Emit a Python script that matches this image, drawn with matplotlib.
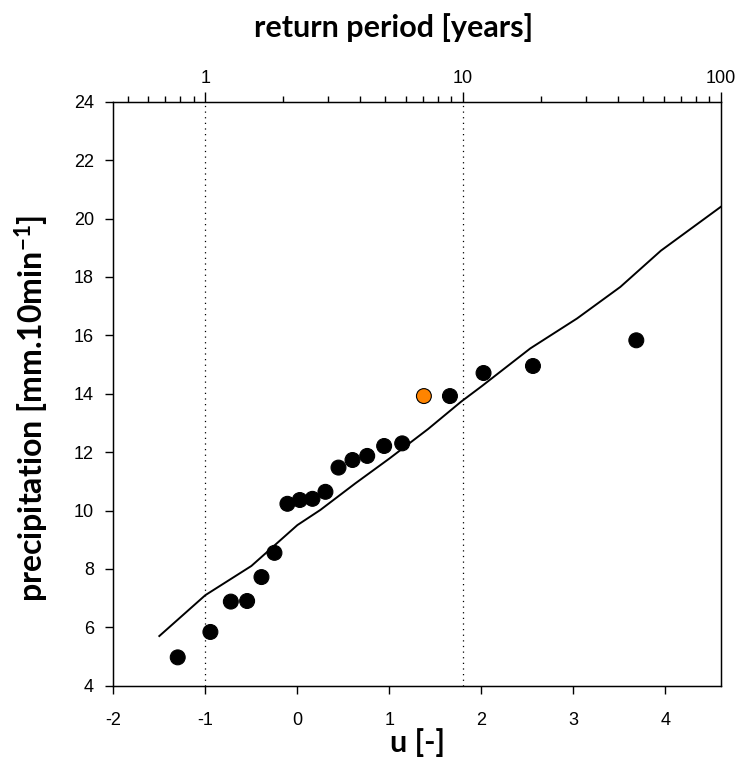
import matplotlib
matplotlib.use("Agg")
import matplotlib.pyplot as plt
import numpy as np
from matplotlib.ticker import NullFormatter, LogLocator

# observed annual maxima: reduced variate u and precipitation
u_obs = [-1.30, -0.945, -0.723, -0.546, -0.390, -0.249, -0.108, 0.027, 0.164, 0.305,
         0.447, 0.599, 0.759, 0.943, 1.139, 1.375, 1.658, 2.023, 2.560, 3.683]
p_obs = [4.97, 5.84, 6.88, 6.90, 7.72, 8.55, 10.23, 10.36, 10.40, 10.64,
         11.47, 11.73, 11.87, 12.21, 12.30, 13.92, 13.92, 14.71, 14.95, 15.83]
highlight = 15  # index of orange point

# fitted curve
u_fit = [-1.50, -1.00, -0.50, 0.00, 0.25, 0.63, 1.00, 1.42, 1.78, 2.00, 2.53, 3.04, 3.51, 3.95, 4.60]
p_fit = [5.70, 7.10, 8.10, 9.50, 10.02, 10.93, 11.78, 12.79, 13.73, 14.25, 15.55, 16.58, 17.66, 18.90, 20.40]

# return period axis: u = a*log10(T) + b
a, b = 2.8, -1.0
T_lines = [1, 10]
T_ticks = [1, 10, 100]

plt.rcParams['font.family'] = ['Liberation Sans', 'DejaVu Sans']
plt.rcParams['mathtext.default'] = 'regular'
plt.rcParams['axes.unicode_minus'] = False

fig = plt.figure(figsize=(7.42, 7.83), dpi=100)
ax = fig.add_axes([0.1527, 0.1243, 0.8186, 0.7457])

ax.plot(u_fit, p_fit, color='black', lw=1.4, zorder=2)
cols = ['black'] * len(u_obs)
cols[highlight] = '#ff8400'
ax.scatter(u_obs, p_obs, s=115, c=cols, edgecolors='black', linewidths=0.8, zorder=3)

ax.set_xlim(-2, 4.6)
ax.set_ylim(4, 24)
ax.set_xticks(np.arange(-2, 5, 1))
ax.set_yticks(np.arange(4, 25, 2))
for s in ax.spines.values():
    s.set_linewidth(1)

# top axis with return period
tx = ax.twiny()
tx.set_xscale('log')
tx.set_xlim(10 ** ((-2 - b) / a), 10 ** ((4.6 - b) / a))
tx.set_xticks(T_ticks, [str(t) for t in T_ticks])
tx.xaxis.set_minor_locator(LogLocator(base=10, subs=np.arange(2, 10)))
tx.xaxis.set_minor_formatter(NullFormatter())
tx.tick_params(axis='x', which='major', direction='out', length=7, width=1, labelsize=13, pad=4)
tx.tick_params(axis='x', which='minor', direction='out', length=4, width=1)
for T in T_lines:
    tx.axvline(T, color='black', lw=0.9, linestyle=(0, (1, 3.5)), zorder=1)

ax.xaxis.set_tick_params(which='major', direction='out', length=6, width=1, labelsize=13, pad=13)
ax.yaxis.set_tick_params(which='major', direction='out', length=6, width=1, labelsize=13, pad=8)

fig.text(0.53, 0.965, 'return period [years]', fontsize=22, fontweight='bold',
         family='Lato', ha='center', va='center')
fig.text(0.5625, 0.052, 'u [-]', fontsize=22, fontweight='bold',
         family='Lato', ha='center', va='center')
fig.text(0.043, 0.478, 'precipitation [mm.10min$^{-1}$]', fontsize=23, fontweight='bold',
         family='Lato', ha='center', va='center', rotation=90)

fig.savefig('out.png', dpi=100)
